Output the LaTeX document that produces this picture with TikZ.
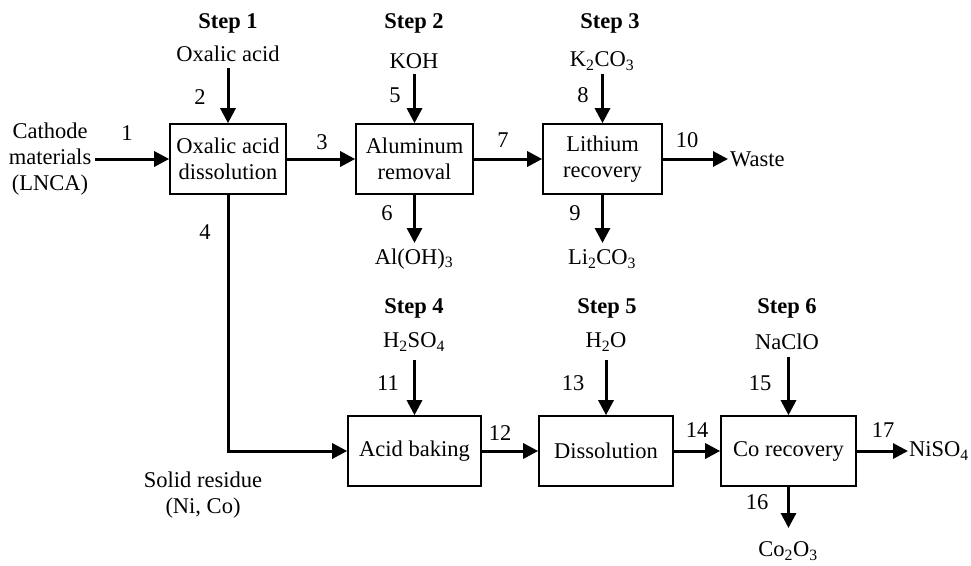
\documentclass[tikz,border=0pt]{standalone}
\usepackage{fontspec}
\setmainfont{Liberation Serif}
\usetikzlibrary{arrows.meta}

\begin{document}
\begin{tikzpicture}[x=1pt,y=-1pt,
	font=\fontsize{22.5}{26}\selectfont,
	box/.style={draw,line width=1.6pt,minimum height=70pt,inner sep=0pt,align=center},
	flow/.style={line width=3pt,-{Triangle[length=15pt,width=15pt]}},
	steplbl/.style={font=\fontsize{22.5}{26}\selectfont\bfseries}]
	\useasboundingbox (0,0) rectangle (971,565);

	% process blocks
	\node[box,minimum width=116pt] (diss) at (228,159) {Oxalic acid\\dissolution};
	\node[box,minimum width=117pt] (alrem) at (414.5,159) {Aluminum\\removal};
	\node[box,minimum width=119pt] (lirec) at (602.5,159) {Lithium\\recovery};
	\node[box,minimum width=133pt] (bake) at (414.5,451) {Acid baking};
	\node[box,minimum width=134pt] (dissol) at (606,451) {Dissolution};
	\node[box,minimum width=135pt] (corec) at (788.5,451) {Co recovery};

	% steps and reagents
	\node[steplbl] (s1) at (228,23) {Step 1};
	\node[steplbl] (s2) at (414,23) {Step 2};
	\node[steplbl] (s3) at (610,23) {Step 3};
	\node[steplbl] (s4) at (414,308) {Step 4};
	\node[steplbl] (s5) at (607,308) {Step 5};
	\node[steplbl] (s6) at (787,308) {Step 6};
	\node (oxa) at (228,54) {Oxalic acid};
	\node (koh) at (414,61) {KOH};
	\node (kco) at (602,61) {K\textsubscript{2}CO\textsubscript{3}};
	\node (hso) at (414,342) {H\textsubscript{2}SO\textsubscript{4}};
	\node (hho) at (606,342) {H\textsubscript{2}O};
	\node (nacl) at (787,342) {NaClO};
	\node[align=center] (cath) at (50,159) {Cathode\\materials\\(LNCA)};
	\node[align=center] (resid) at (203,495) {Solid residue\\(Ni, Co)};

	% products
	\node (aloh) at (414,259) {Al(OH)\textsubscript{3}};
	\node (lico) at (602,259) {Li\textsubscript{2}CO\textsubscript{3}};
	\node (coo) at (788,551) {Co\textsubscript{2}O\textsubscript{3}};
	\node[anchor=west,inner sep=2pt] (waste) at (728,159) {Waste};
	\node[anchor=west,inner sep=1pt] (niso) at (908,451) {NiSO\textsubscript{4}};

	% arrow ends
	\coordinate (in2) at (228,68);
	\coordinate (in5) at (414.5,74);
	\coordinate (in8) at (602.5,74);
	\coordinate (in11) at (414.5,360);
	\coordinate (in13) at (606,360);
	\coordinate (in15) at (788.5,357);
	\coordinate (out6) at (414.5,243);
	\coordinate (out9) at (602.5,243);
	\coordinate (out16) at (788.5,528);

	\draw[flow] (cath.east) -- (diss.west);
	\draw[flow] (in2) -- (diss.north);
	\draw[flow] (diss.east) -- (alrem.west);
	\draw[flow] (diss.south) |- (bake.west);
	\draw[flow] (in5) -- (alrem.north);
	\draw[flow] (alrem.south) -- (out6);
	\draw[flow] (alrem.east) -- (lirec.west);
	\draw[flow] (in8) -- (lirec.north);
	\draw[flow] (lirec.south) -- (out9);
	\draw[flow] (lirec.east) -- (waste.west);
	\draw[flow] (in11) -- (bake.north);
	\draw[flow] (bake.east) -- (dissol.west);
	\draw[flow] (in13) -- (dissol.north);
	\draw[flow] (dissol.east) -- (corec.west);
	\draw[flow] (in15) -- (corec.north);
	\draw[flow] (corec.south) -- (out16);
	\draw[flow] (corec.east) -- (niso.west);

	% stream numbers
	\node (n1) at (127,133) {1};
	\node (n2) at (200,97) {2};
	\node (n3) at (322,142) {3};
	\node (n4) at (205,232) {4};
	\node (n5) at (395,95) {5};
	\node (n6) at (387,213) {6};
	\node (n7) at (503,140) {7};
	\node (n8) at (583,95) {8};
	\node (n9) at (575,213) {9};
	\node (n10) at (687,140) {10};
	\node (n11) at (388,383) {11};
	\node (n12) at (500,433) {12};
	\node (n13) at (573,383) {13};
	\node (n14) at (697,430) {14};
	\node (n15) at (760,383) {15};
	\node (n16) at (757,502) {16};
	\node (n17) at (883,430) {17};
\end{tikzpicture}
\end{document}
